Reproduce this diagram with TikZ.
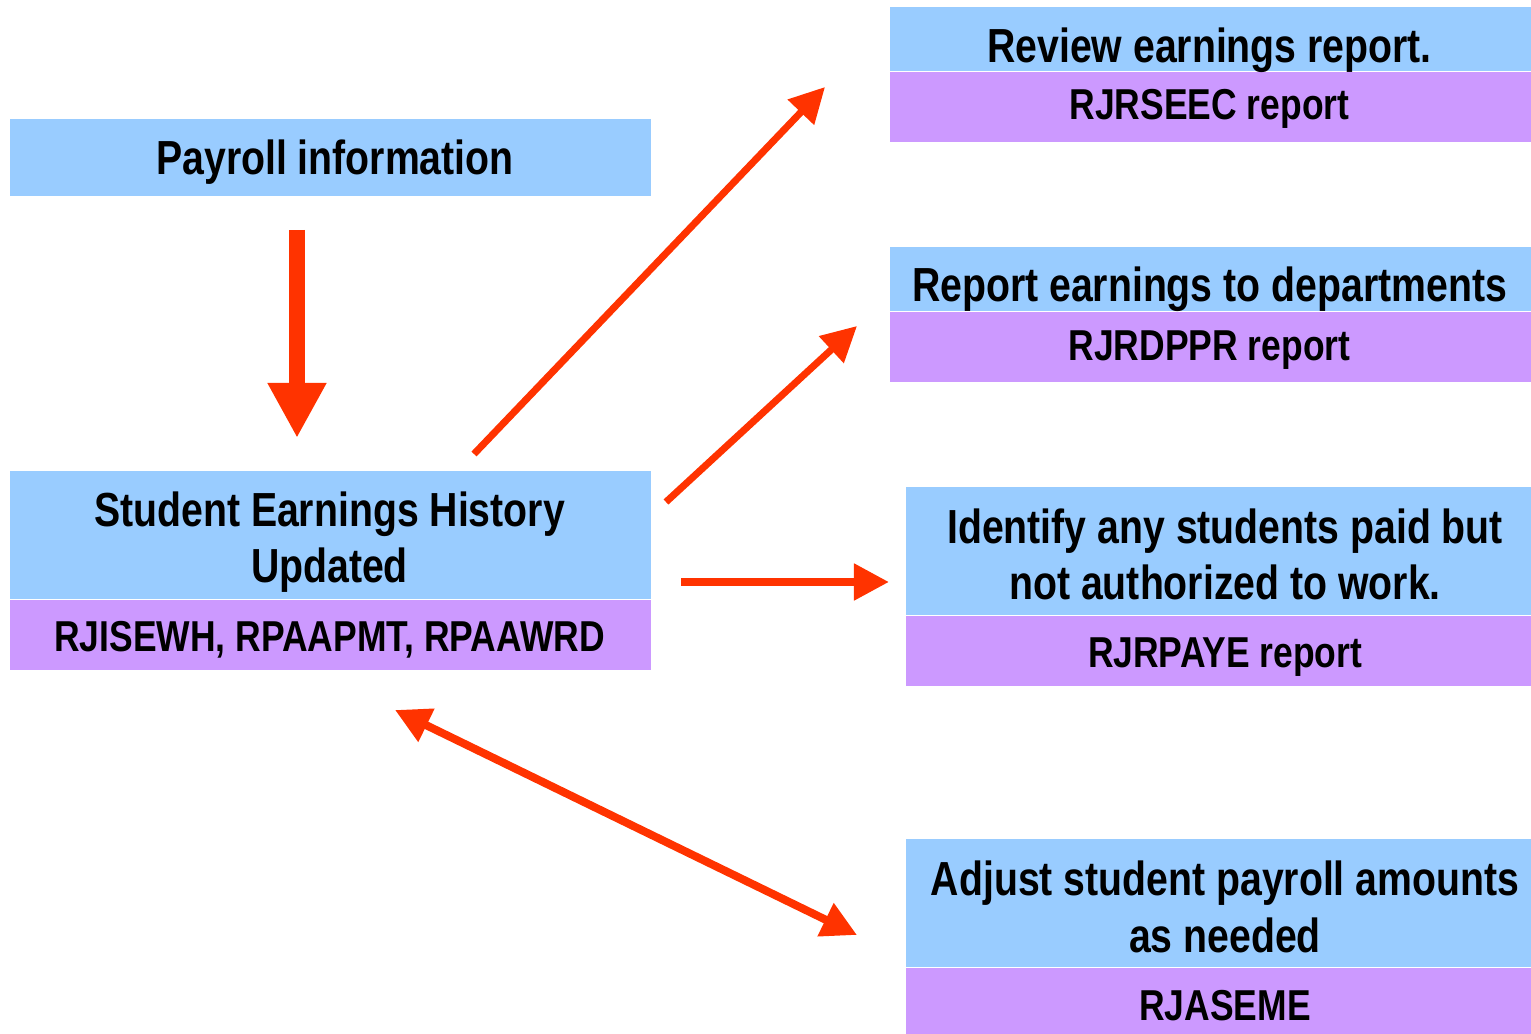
\documentclass[tikz,border=0pt]{standalone}
\usepackage{fontspec}
\setmainfont{Liberation Sans}[FakeStretch=0.82]
\usepackage{tikz}
\usepackage{xcolor}
\usetikzlibrary{arrows.meta,positioning}

\definecolor{skyblue}{HTML}{99CCFF}
\definecolor{lilac}{HTML}{CC99FF}
\definecolor{arrowred}{HTML}{FF3300}

\begin{document}
\begin{tikzpicture}[x=0.01cm, y=-0.01cm]
    \tikzstyle{bluebox} = [rectangle, fill=skyblue, inner sep=0pt, minimum width=6.41cm, anchor=north west]
    \tikzstyle{purplebox} = [rectangle, fill=lilac, inner sep=0pt, minimum width=6.41cm, minimum height=0.7cm]
    \tikzstyle{boxtitle} = [inner sep=0pt, anchor=base, align=center, font=\fontsize{13.6}{16.2}\selectfont\bfseries]
    \tikzstyle{boxcode} = [inner sep=0pt, anchor=base, font=\fontsize{12.3}{14.5}\selectfont\bfseries]
    \tikzstyle{arrow} = [line width=0.07cm, arrowred, -{Triangle[length=0.35cm,width=0.35cm]}]

    \useasboundingbox (0,0) rectangle (1531,1034);

    % left column
    \node [bluebox, minimum height=0.77cm] (payroll) at (9,118) {};
    \node [bluebox, minimum height=1.28cm] (history) at (9,470) {};
    \node [purplebox, below=0pt of history] (historycode) {};

    % right column
    \node [bluebox, minimum height=0.64cm] (review) at (889,6) {};
    \node [purplebox, below=0pt of review] (reviewcode) {};
    \node [bluebox, minimum height=0.64cm] (report) at (889,246) {};
    \node [purplebox, below=0pt of report] (reportcode) {};
    \node [bluebox, minimum height=1.28cm] (identify) at (905,486) {};
    \node [purplebox, below=0pt of identify] (identifycode) {};
    \node [bluebox, minimum height=1.28cm] (adjust) at (905,838) {};
    \node [purplebox, below=0pt of adjust] (adjustcode) {};

    % texts (base = last line)
    \node [boxtitle] (payrolltext) at (335,175) {Payroll information};
    \node [boxtitle] (historytext) at (329.5,583) {Student Earnings History\\Updated};
    \node [boxcode] (historycodetext) at (329.5,651) {RJISEWH, RPAAPMT, RPAAWRD};
    \node [boxtitle] (reviewtext) at (1209.5,63) {Review earnings report.};
    \node [boxcode] (reviewcodetext) at (1209.5,120) {RJRSEEC report};
    \node [boxtitle] (reporttext) at (1209.5,302) {Report earnings to departments};
    \node [boxcode] (reportcodetext) at (1209.5,361) {RJRDPPR report};
    \node [boxtitle] (identifytext) at (1225,600) {Identify any students paid but\\not authorized to work.};
    \node [boxcode] (identifycodetext) at (1225,667) {RJRPAYE report};
    \node [boxtitle] (adjusttext) at (1225,952) {Adjust student payroll amounts\\as needed};
    \node [boxcode] (adjustcodetext) at (1225,1020) {RJASEME};

    % arrow ends
    \coordinate (downstart) at (297,230);
    \coordinate (downend) at (297,438);
    \coordinate (reviewstart) at (474,454);
    \coordinate (reviewend) at (825,87);
    \coordinate (reportstart) at (666,502);
    \coordinate (reportend) at (857,326);
    \coordinate (identifystart) at (681,582);
    \coordinate (identifyend) at (889,582);
    \coordinate (adjuststart) at (395,710);
    \coordinate (adjustend) at (857,935);

    \draw [arrowred, line width=0.16cm, -{Triangle[length=0.55cm,width=0.55cm]}] (downstart) -- (downend);
    \draw [arrow] (reviewstart) -- (reviewend);
    \draw [arrow] (reportstart) -- (reportend);
    \draw [arrow, line width=0.08cm] (identifystart) -- (identifyend);
    \draw [arrow, line width=0.08cm, {Triangle[length=0.35cm,width=0.35cm]}-{Triangle[length=0.35cm,width=0.35cm]}] (adjuststart) -- (adjustend);
\end{tikzpicture}
\end{document}
